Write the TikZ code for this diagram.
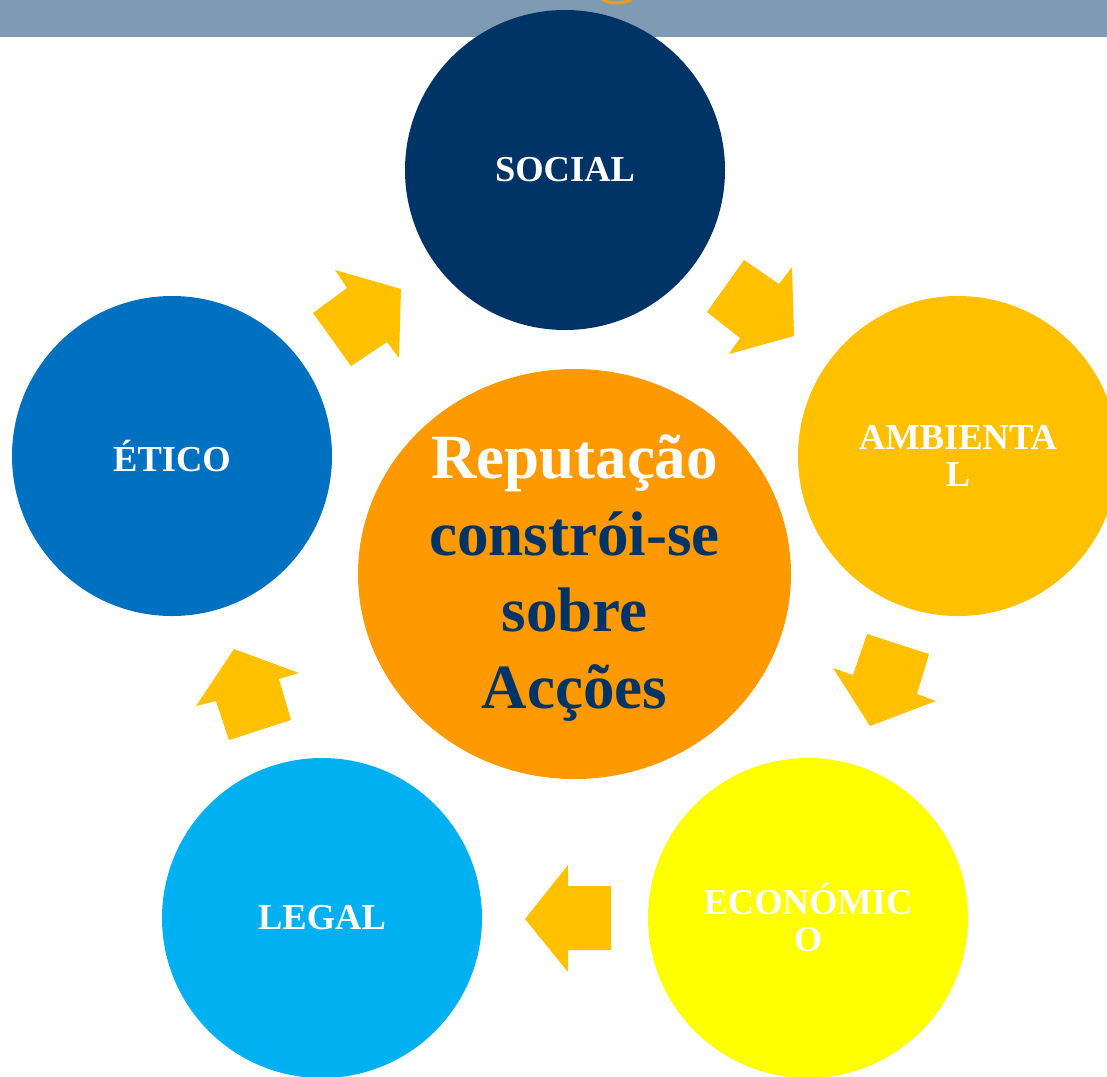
\documentclass[tikz,border=0pt]{standalone}
\usepackage{fontspec}
\setmainfont{Liberation Serif}
\usetikzlibrary{shapes.geometric}
\definecolor{barblue}{RGB}{127,155,180}
\definecolor{navy}{RGB}{0,51,102}
\definecolor{midblue}{RGB}{0,112,192}
\definecolor{skyblue}{RGB}{0,176,240}
\definecolor{amber}{RGB}{255,192,0}
\definecolor{brightyellow}{RGB}{255,255,0}
\definecolor{deeporange}{RGB}{255,153,0}
\definecolor{arrowgold}{RGB}{255,192,0}
\begin{document}
\begin{tikzpicture}[x=0.5pt,y=-0.5pt,
  bubble/.style={circle,minimum size=160pt,inner sep=0pt,text=white,
    font=\fontsize{18.25pt}{18.5pt}\selectfont\bfseries,align=center},
  blockarrow/.style={fill=arrowgold,draw=none}]
\useasboundingbox (0,0) rectangle (1107,1076);
\fill[white] (0,0) rectangle (1107,1076);
% header band
\fill[barblue] (0,0) rectangle (1107,37);
\draw[deeporange,line width=1.5pt] (601,-4) arc[start angle=180,end angle=0,x radius=16,y radius=7];
% the five themes
\node[bubble,fill=navy] (social) at (565,170) {SOCIAL};
\node[bubble,fill=amber] (ambiental) at (958,456) {AMBIENTA\\L};
\node[bubble,fill=brightyellow] (economico) at (808,918) {ECONÓMIC\\O};
\node[bubble,fill=skyblue] (legal) at (322,918) {LEGAL};
\node[bubble,fill=midblue] (etico) at (172,456) {ÉTICO};
% centre
\node[ellipse,fill=deeporange,minimum width=216.5pt,minimum height=205pt,inner sep=0pt]
  (centre) at (574.5,574) {};
\node[font=\fontsize{31.5pt}{38.3pt}\selectfont\bfseries,text=navy,align=center]
  (centretext) at (574.5,578) {\textcolor{white}{Reputação}\\constrói-se\\sobre\\Acções};
% block arrows between the themes
\fill[blockarrow] (335,270) -- (401,289) -- (399,358) -- (387,342) -- (351,366) -- (313,313) -- (347,288) -- cycle;
\fill[blockarrow] (744,260) -- (779,284) -- (792,267) -- (794,336) -- (729,354) -- (740,338) -- (707,312) -- cycle;
\fill[blockarrow] (867,634) -- (929,654) -- (917,694) -- (936,701) -- (870,726) -- (833,668) -- (853,675) -- cycle;
\fill[blockarrow] (568,865) -- (568,886) -- (611,886) -- (611,950) -- (568,950) -- (568,972) -- (525,919) -- cycle;
\fill[blockarrow] (234,649) -- (299,673) -- (279,679) -- (291,720) -- (229,740) -- (216,701) -- (196,706) -- cycle;
\end{tikzpicture}
\end{document}
